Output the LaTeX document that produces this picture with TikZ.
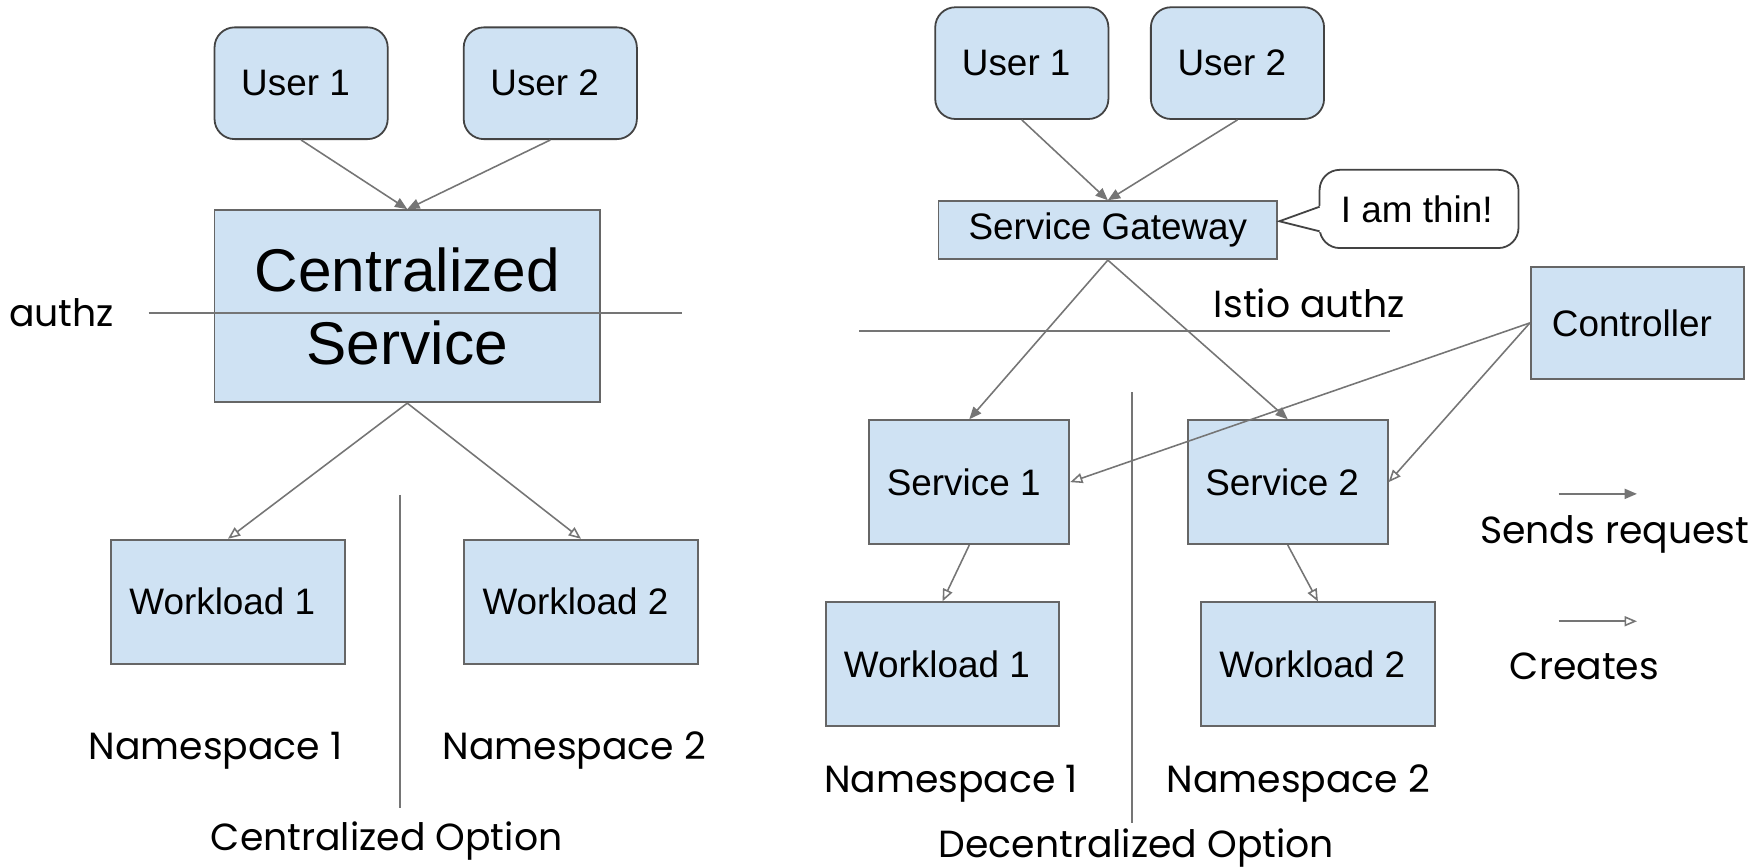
\documentclass[tikz,border=0pt]{standalone}
\usepackage{fontspec}
\setmainfont{Liberation Sans}
\newfontfamily\popfont{Poppins}
\usetikzlibrary{arrows.meta}
\definecolor{boxfill}{RGB}{207,226,243}
\definecolor{boxline}{RGB}{102,102,102}
\definecolor{userline}{RGB}{67,67,67}
\definecolor{conn}{RGB}{117,117,117}
\begin{document}
\begin{tikzpicture}[x=0.5pt,y=-0.5pt,
  box/.style={draw=boxline, fill=boxfill, line width=0.8pt, inner sep=0pt, font=\fontsize{16.5}{19}\selectfont},
  shl/.style={execute at end node={\hspace*{5pt}}},
  userbox/.style={box, shl, draw=userline, rounded corners=9pt, minimum width=77.5pt, minimum height=50pt},
  lbl/.style={font=\popfont\fontsize{16.9}{20}\selectfont, inner sep=0pt},
  req/.style={draw=conn, line width=0.7pt, -{Triangle[length=5.5pt,width=4.5pt]}},
  creates/.style={draw=conn, line width=0.7pt, -{Triangle[open,length=5.5pt,width=4.5pt]}},
  rule/.style={draw=conn, line width=0.8pt},
  calloutline/.style={draw=userline, line width=0.8pt},
]
\useasboundingbox (0,0) rectangle (1568,776);
\fill[white] (0,0) rectangle (1568,776);

% ---------------- Left: centralized option
\node[userbox] (lu1) at (269.5,74.5) {User 1};
\node[userbox] (lu2) at (492.5,74.5) {User 2};
\node[box, minimum width=172.5pt, minimum height=86pt, align=center,
      font=\fontsize{27}{32.5}\selectfont] (cs) at (364.5,274) {Centralized\\Service};
\node[box, shl, minimum width=105pt, minimum height=55.5pt] (lw1) at (204,538.5) {Workload 1};
\node[box, shl, minimum width=105pt, minimum height=55.5pt] (lw2) at (520,538.5) {Workload 2};

\node[lbl] (authz) at (55,280) {authz};
\coordinate (al1) at (133,280);
\coordinate (al2) at (610,280);
\draw[rule] (al1) -- (al2);

\coordinate (ld1) at (358,443);
\coordinate (ld2) at (358,723);
\draw[rule] (ld1) -- (ld2);

\node[lbl] (lns1) at (193,672) {Namespace 1};
\node[lbl] (lns2) at (514,672) {Namespace 2};
\node[lbl] (lopt) at (346,753) {Centralized Option};

\draw[req] (lu1.south) -- (cs.north);
\draw[req] (lu2.south) -- (cs.north);
\draw[creates] (cs.south) -- (lw1.north);
\draw[creates] (cs.south) -- (lw2.north);

% ---------------- Right: decentralized option
\node[userbox] (ru1) at (914.5,56.5) {User 1};
\node[userbox] (ru2) at (1107.5,56.5) {User 2};
\node[box, minimum width=151.5pt, minimum height=26pt] (gw) at (991.5,206) {Service Gateway};

\draw[calloutline, fill=white, rounded corners=9pt] (1181,152) rectangle (1359,222);
\fill[white] (1182.5,184) -- (1145,198) -- (1182.5,208) -- cycle;
\draw[calloutline, line join=miter] (1181,185) -- (1145,198) -- (1181,207);
\node[font=\fontsize{16.5}{19}\selectfont, inner sep=0pt] (thin) at (1268,187) {I am thin!};

\node[lbl] (istio) at (1172,271) {Istio authz};
\coordinate (il1) at (769,296);
\coordinate (il2) at (1244,296);
\draw[rule] (il1) -- (il2);

\node[box, shl, minimum width=95.5pt, minimum height=50pt] (ctl) at (1465.5,289) {Controller};
\node[box, shl, minimum width=89.5pt, minimum height=55.5pt] (s1) at (867.5,431.5) {Service 1};
\node[box, shl, minimum width=89.5pt, minimum height=55.5pt] (s2) at (1152.5,431.5) {Service 2};
\node[box, shl, minimum width=104.5pt, minimum height=55.5pt] (rw1) at (843.5,594.5) {Workload 1};
\node[box, shl, minimum width=104.5pt, minimum height=55.5pt] (rw2) at (1179.5,594.5) {Workload 2};

\coordinate (rd1) at (1013,351);
\coordinate (rd2) at (1013,737);
\draw[rule] (rd1) -- (rd2);

\node[lbl] (rns1) at (851,701) {Namespace 1};
\node[lbl] (rns2) at (1162,701) {Namespace 2};
\node[lbl, anchor=base] (ropt) at (1017,767) {Decentralized Option};

\draw[req] (ru1.south) -- (gw.north);
\draw[req] (ru2.south) -- (gw.north);
\draw[req] (gw.south) -- (s1.north);
\draw[req] (gw.south) -- (s2.north);
\draw[creates] (ctl.west) -- (s1.east);
\draw[creates] (ctl.west) -- (s2.east);
\draw[creates] (s1.south) -- (rw1.north);
\draw[creates] (s2.south) -- (rw2.north);

% ---------------- Legend
\coordinate (lg1a) at (1395,442);
\coordinate (lg1b) at (1465,442);
\draw[req] (lg1a) -- (lg1b);
\node[lbl] (lgreq) at (1445,478) {Sends request};
\coordinate (lg2a) at (1395,556);
\coordinate (lg2b) at (1465,556);
\draw[creates] (lg2a) -- (lg2b);
\node[lbl] (lgcre) at (1418,596) {Creates};
\end{tikzpicture}
\end{document}
